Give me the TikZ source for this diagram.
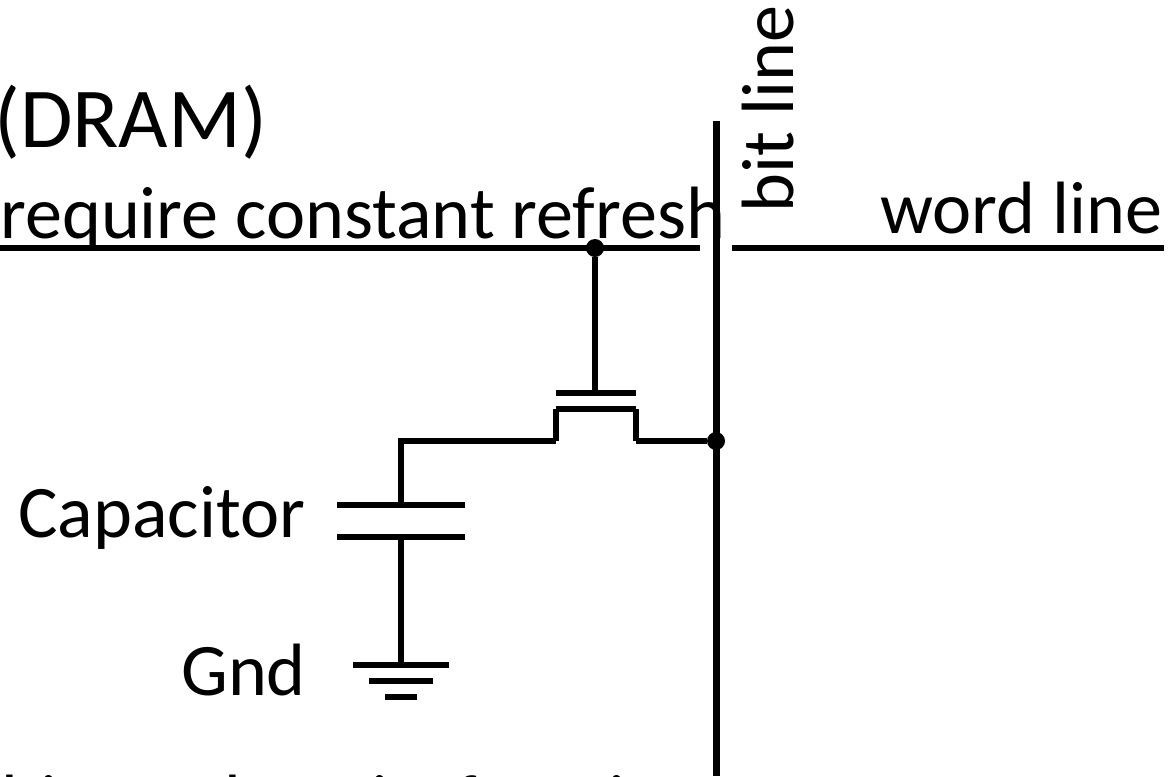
\documentclass[tikz,border=0pt]{standalone}
\usepackage{fontspec}
\setmainfont{Carlito}
\tikzset{
  wire/.style={line width=4.5pt,line cap=butt},
  busline/.style={line width=5.25pt},
  junction/.style={circle,fill=black,inner sep=0pt,minimum size=13.5pt},
  lbl/.style={font=\fontsize{55.6}{56}\selectfont,inner sep=0pt,anchor=base west},
  titlelbl/.style={lbl,font=\fontsize{64}{64}\selectfont},
}
\begin{document}
\begin{tikzpicture}[x=0.75pt,y=0.75pt,yscale=-1,xscale=1]
  \useasboundingbox (0,0) rectangle (1169,776);
  \clip (0,0) rectangle (1169,776);
  % Text Node
  \node [titlelbl] (title) at (-6,147) {(DRAM)};
  \node [lbl] (refresh) at (0,238) {require constant refresh};
  \node [lbl] (wordlabel) at (880,233) {word line};
  \node [lbl,rotate=90] (bitlabel) at (793,213) {bit line};
  \node [lbl] (caplabel) at (18,537) {Capacitor};
  \node [lbl] (gndlabel) at (181,695) {Gnd};
  \node [lbl] (cutoff) at (-24,826) {this can be\kern-10pt{} using\kern-19pt{} few\kern-9pt{} pins};
  % word line
  \coordinate (wordL) at (0,248);
  \coordinate (wordR) at (700,248);
  \coordinate (wordRb) at (732,248);
  \coordinate (wordRe) at (1164,248);
  \draw [wire] (wordL) -- (wordR);
  \draw [wire] (wordRb) -- (wordRe);
  % bit line
  \coordinate (bitT) at (716,121);
  \coordinate (bitB) at (716,776);
  \draw [busline] (bitT) -- (bitB);
  % transistor
  \node [junction] (gatedot) at (595,248) {};
  \node [junction] (draindot) at (716,441) {};
  \coordinate (gateT) at (595,393);
  \draw [wire] (gatedot) -- (gateT);
  \draw [wire] (556,393) -- (636,393);
  \draw [wire] (556,409) -- (636,409);
  \draw [wire] (556,409) -- (556,441) (636,409) -- (636,441);
  \draw [wire] (636,441) -- (draindot);
  \coordinate (capT) at (401,505);
  \draw [wire,line join=miter] (556,441) -- (401,441) -- (capT);
  % capacitor
  \draw [wire] (337,505) -- (465,505);
  \draw [wire] (337,537) -- (465,537);
  \coordinate (capB) at (401,537);
  \coordinate (gndT) at (401,665);
  \draw [wire] (capB) -- (gndT);
  % ground
  \draw [wire] (353,665) -- (449,665);
  \draw [wire] (369,681) -- (433,681);
  \draw [wire] (385,697) -- (417,697);
\end{tikzpicture}
\end{document}
